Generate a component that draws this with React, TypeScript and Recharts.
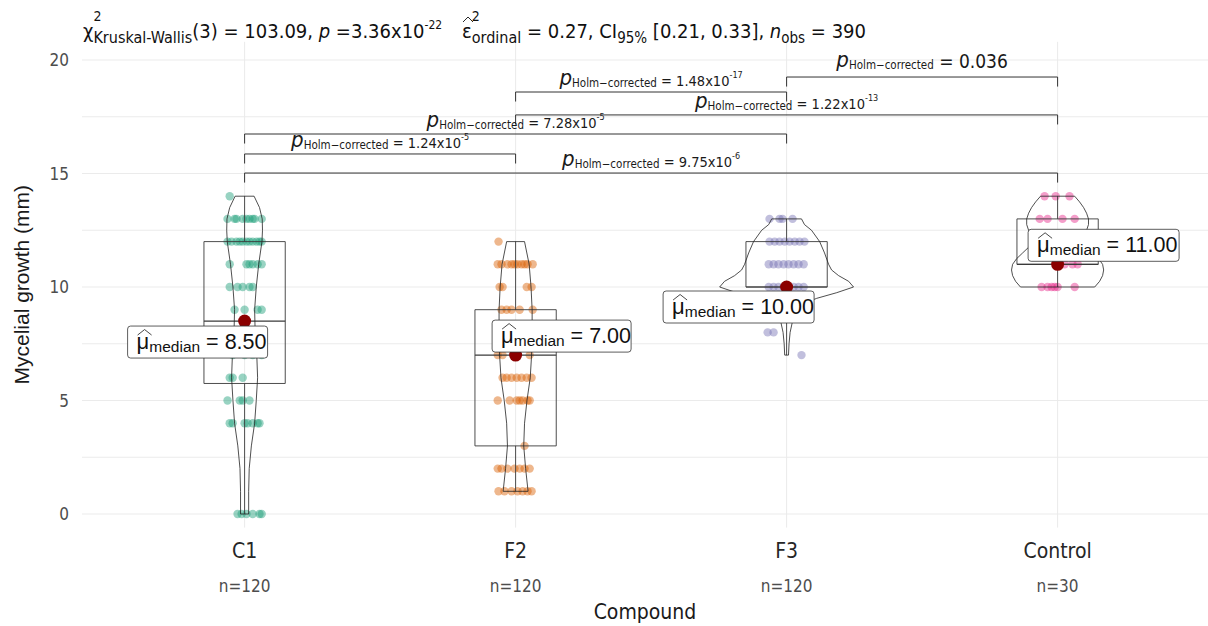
import React from 'react'
import { ComposedChart, Scatter, XAxis, YAxis, CartesianGrid } from 'recharts'

const NARROW = "'Liberation Sans Narrow', 'Arial Narrow', 'DejaVu Sans Condensed', sans-serif"
const SANS = "'Liberation Sans', Arial, sans-serif"

const groups = ['C1', 'F2', 'F3', 'Control']
const groupN = [120, 120, 120, 30]
const groupColors = ['#1B9E77', '#D95F02', '#7570B3', '#E7298A']

// box plot stats
const medians = [8.5, 7, 10, 11]
const medianText = ['8.50', '7.00', '10.00', '11.00']
const q1 = [5.75, 3, 10, 11]
const q3 = [12, 9, 12, 13]
const whiskerLow = [0, 1, 7, 10]
const whiskerHigh = [14, 12, 13, 14]

// visible observations: [value, horizontal jitter of each point (category units)]
const c1Points: [number, number[]][] = [
  [14, [-0.055]],
  [13, [-0.063, -0.037, -0.03, -0.007, 0.007, 0.018, 0.03, 0.037, 0.063]],
  [12, [-0.063, -0.048, -0.03, -0.018, -0.007, 0.007, 0.018, 0.03, 0.044, 0.055, 0.063]],
  [11, [-0.055, 0.007, 0.018, 0.03, 0.048, 0.063]],
  [10, [-0.055, -0.026, -0.007, 0.018, 0.03]],
  [9, [-0.037, 0, 0.048, 0.063]],
  [8, [-0.044, 0, 0.037]],
  [7, [-0.044, 0, 0.03, 0.063]],
  [6, [-0.055, -0.044, -0.007]],
  [5, [-0.063, -0.018, -0.007, 0.018]],
  [4, [-0.055, -0.044, 0, 0.011, 0.03, 0.048, 0.055]],
  [0, [-0.026, -0.011, 0.007, 0.03, 0.055, 0.063]],
]
const f2Points: [number, number[]][] = [
  [12, [-0.063]],
  [11, [-0.066, -0.052, -0.03, -0.015, -0.004, 0.007, 0.022, 0.033, 0.044, 0.063]],
  [10, [-0.059, -0.048, 0.041, 0.059]],
  [9, [-0.052, -0.033, -0.015, 0.015, 0.063]],
  [8, [-0.037, 0.018, 0.055]],
  [7, [-0.066, -0.048, 0.052]],
  [6, [-0.048, -0.033, -0.015, 0.004, 0.022, 0.041, 0.059]],
  [5, [-0.066, -0.022, 0.004, 0.015, 0.026, 0.044, 0.052]],
  [3, [0.033]],
  [2, [-0.066, -0.052, -0.03, -0.004, 0.015, 0.033, 0.052]],
  [1, [-0.063, -0.041, -0.015, 0.007, 0.026, 0.044, 0.059]],
]
const f3Points: [number, number[]][] = [
  [13, [-0.063, -0.026, -0.015, 0.022]],
  [12, [-0.063, -0.044, -0.026, -0.007, 0.011, 0.03, 0.048, 0.066]],
  [11, [-0.066, -0.048, -0.03, -0.011, 0.007, 0.026, 0.044, 0.063]],
  [10, [-0.066, -0.048, -0.03, -0.011, 0.007, 0.026, 0.044, 0.063]],
  [9, [-0.037, 0.018]],
  [8, [-0.07, -0.048]],
  [7, [0.055]],
]
const controlPoints: [number, number[]][] = [
  [14, [-0.048, -0.007, 0.044]],
  [13, [-0.066, -0.037, 0.018, 0.063]],
  [12, [-0.037, 0.018]],
  [11, [0.026, 0.055, 0.074]],
  [10, [-0.059, -0.037, -0.022, -0.011, 0, 0.063]],
]
const pointRows = [c1Points, f2Points, f3Points, controlPoints]

// violin half widths (category units) at given heights
const c1ViolinY = [0, 1, 2, 3, 4, 5, 6, 7, 8, 9, 10, 11, 12, 12.5, 13, 13.5, 14]
const c1ViolinW = [0.015, 0.015, 0.017, 0.025, 0.037, 0.043, 0.048, 0.045, 0.039, 0.037, 0.043, 0.052, 0.064, 0.066, 0.065, 0.055, 0.035]
const f2ViolinY = [1, 2, 3, 4, 5, 6, 7, 8, 9, 10, 11, 12]
const f2ViolinW = [0.046, 0.037, 0.03, 0.033, 0.042, 0.054, 0.059, 0.061, 0.061, 0.057, 0.05, 0.033]
const f3ViolinY = [7, 7.5, 8, 8.5, 9, 9.25, 9.5, 9.75, 10, 10.25, 10.5, 10.75, 11, 11.5, 12, 12.5, 12.75, 13]
const f3ViolinW = [0.007, 0.009, 0.013, 0.022, 0.037, 0.059, 0.111, 0.185, 0.247, 0.229, 0.192, 0.166, 0.155, 0.14, 0.122, 0.092, 0.066, 0.055]
const controlViolinY = [10, 10.25, 10.5, 10.75, 11, 11.25, 11.5, 11.75, 12, 12.25, 12.5, 12.75, 13, 13.25, 13.5, 13.75, 14]
const controlViolinW = [0.137, 0.155, 0.166, 0.17, 0.166, 0.151, 0.129, 0.107, 0.096, 0.1, 0.107, 0.114, 0.114, 0.107, 0.096, 0.081, 0.063]
const violinYs = [c1ViolinY, f2ViolinY, f3ViolinY, controlViolinY]
const violinWs = [c1ViolinW, f2ViolinW, f3ViolinW, controlViolinW]

// pairwise comparisons
const pairFrom = [1, 1, 1, 2, 2, 3]
const pairTo = [4, 2, 3, 4, 3, 4]
const pairY = [15.02, 15.86, 16.74, 17.58, 18.59, 19.25]
const pairP = ['9.75x10', '1.24x10', '7.28x10', '1.22x10', '1.48x10', '0.036']
const pairExp = ['-6', '-5', '-5', '-13', '-17', '']

const BOX_HALF = 0.15
const BRACKET_TICK = 0.42
const labelOffset: [number, number][] = [[-47, 21], [46, -19], [-48, 20], [46, -19]]
const labelWidth = [140, 139, 151, 151]

const pointData = pointRows.map((rows, g) =>
  rows.flatMap(([v, offs]) => offs.map((o) => ({ x: g + 1 + o, y: v })))
)
const violinData = violinYs.map((ys, g) => {
  const ws = violinWs[g]
  const left = ys.map((y, k) => ({ x: g + 1 - ws[k], y }))
  const right = ys.map((y, k) => ({ x: g + 1 + ws[k], y })).reverse()
  return [...left, ...right, left[0]]
})
const boxData = groups.map((_, g) => {
  const c = g + 1
  return [
    { x: c - BOX_HALF, y: q1[g] },
    { x: c - BOX_HALF, y: q3[g] },
    { x: c + BOX_HALF, y: q3[g] },
    { x: c + BOX_HALF, y: q1[g] },
    { x: c - BOX_HALF, y: q1[g] },
  ]
})
const medianLineData = groups.map((_, g) => [
  { x: g + 1 - BOX_HALF, y: medians[g] },
  { x: g + 1 + BOX_HALF, y: medians[g] },
])
const lowWhiskerData = groups.map((_, g) => [
  { x: g + 1, y: whiskerLow[g] },
  { x: g + 1, y: q1[g] },
])
const highWhiskerData = groups.map((_, g) => [
  { x: g + 1, y: q3[g] },
  { x: g + 1, y: whiskerHigh[g] },
])
const bracketData = pairFrom.map((a, k) => [
  { x: a, y: pairY[k] - BRACKET_TICK },
  { x: a, y: pairY[k] },
  { x: pairTo[k], y: pairY[k] },
  { x: pairTo[k], y: pairY[k] - BRACKET_TICK },
])
const bracketLabelData = pairFrom.map((a, k) => ({
  x: (a + pairTo[k]) / 2,
  y: pairY[k],
  k,
}))
const medianData = medians.map((m, g) => ({ x: g + 1, y: m, g }))

const noShape = () => <g />

const lineSeries = (key: string, data: any[], stroke: string, width: number) => (
  <Scatter
    key={key}
    data={data}
    fill="none"
    line={{ stroke, strokeWidth: width }}
    lineType="joint"
    shape={noShape}
    isAnimationActive={false}
  />
)

const XTick = (props: any) => {
  const { x, y, payload } = props
  const i = Math.round(payload.value) - 1
  return (
    <g>
      <text x={x} y={y + 30} textAnchor="middle" fontFamily={NARROW} fontSize={21} fill="#262626">
        {groups[i]}
      </text>
      <text x={x} y={y + 64} textAnchor="middle" fontFamily={NARROW} fontSize={17} fill="#4d4d4d">
        n={groupN[i]}
      </text>
    </g>
  )
}

const BracketLabel = (props: any) => {
  const { cx, cy, payload } = props
  const k = payload.k
  const big = pairExp[k] === ''
  return (
    <text x={cx} y={cy - (big ? 10 : 7)} textAnchor="middle" fontFamily={NARROW} fill="#1a1a1a">
      <tspan fontSize={22} fontStyle="italic">p</tspan>
      <tspan fontSize={11.5} dy={2}>Holm−corrected</tspan>
      <tspan fontSize={big ? 19 : 14.5} dy={-1}>{' = ' + pairP[k]}</tspan>
      {pairExp[k] !== '' && (
        <tspan fontSize={9} dy={-8}>{pairExp[k]}</tspan>
      )}
    </text>
  )
}

const MedianMark = (props: any) => {
  const { cx, cy, payload } = props
  const g = payload.g
  const [dx, dy] = labelOffset[g]
  const w = labelWidth[g]
  const h = 32
  const bx = cx + dx - w / 2
  const by = cy + dy - h / 2
  return (
    <g>
      <circle cx={cx} cy={cy} r={6.5} fill="#8B0000" />
      <rect x={bx} y={by} width={w} height={h} rx={3} fill="#ffffff" stroke="#333333" strokeWidth={0.8} />
      <path d={`M${bx + 10},${by + 9} L${bx + 17},${by + 3.5} L${bx + 24},${by + 9}`} fill="none" stroke="#333333" strokeWidth={0.9} />
      <text x={bx + 9} y={by + 23} fontFamily={SANS} fill="#111111">
        <tspan fontSize={22}>μ</tspan>
        <tspan fontSize={15.5} dy={3}>median</tspan>
        <tspan fontSize={21.5} dy={-3}>{' = ' + medianText[g]}</tspan>
      </text>
    </g>
  )
}

export default function App() {
  return (
    <div style={{ position: 'absolute', left: 0, top: 0, width: 1208, height: 626, background: '#fff' }}>
      <ComposedChart width={1208} height={626} margin={{ top: 41.84, right: 0, bottom: 0, left: 0 }}>
        <CartesianGrid stroke="#ebebeb" strokeWidth={1} syncWithTicks />
        <XAxis
          type="number"
          dataKey="x"
          domain={[0.4, 4.555]}
          allowDataOverflow
          ticks={[1, 2, 3, 4]}
          interval={0}
          height={98.38}
          tickLine={false}
          axisLine={false}
          tickSize={0}
          tickMargin={0}
          tick={<XTick />}
          label={{ value: 'Compound', position: 'insideBottom', offset: 7, fontSize: 21, fill: '#1a1a1a', fontFamily: NARROW }}
        />
        <YAxis
          type="number"
          dataKey="y"
          domain={[-0.6, 20.8]}
          allowDataOverflow
          ticks={[0, 2.5, 5, 7.5, 10, 12.5, 15, 17.5, 20]}
          interval={0}
          width={82}
          tickLine={false}
          axisLine={false}
          tickMargin={7}
          tickFormatter={(v: number) => (v % 5 === 0 ? String(v) : '')}
          tick={{ fontSize: 17, fill: '#4d4d4d', fontFamily: NARROW }}
          label={{
            value: 'Mycelial growth (mm)',
            angle: -90,
            position: 'insideLeft',
            offset: 22,
            fontSize: 21,
            fill: '#1a1a1a',
            fontFamily: SANS,
            style: { textAnchor: 'middle' },
          }}
        />
        {pointData.map((d, g) => (
          <Scatter
            key={'pts' + g}
            data={d}
            isAnimationActive={false}
            shape={(p: any) => <circle cx={p.cx} cy={p.cy} r={4.2} fill={groupColors[g]} fillOpacity={0.45} />}
          />
        ))}
        {boxData.map((d, g) => lineSeries('box' + g, d, '#3a3a3a', 0.9))}
        {medianLineData.map((d, g) => lineSeries('med' + g, d, '#3a3a3a', 1.2))}
        {lowWhiskerData.map((d, g) => lineSeries('wl' + g, d, '#3a3a3a', 0.9))}
        {highWhiskerData.map((d, g) => lineSeries('wh' + g, d, '#3a3a3a', 0.9))}
        {violinData.map((d, g) => lineSeries('vio' + g, d, '#222222', 0.8))}
        {bracketData.map((d, k) => lineSeries('br' + k, d, '#333333', 1))}
        <Scatter data={bracketLabelData} isAnimationActive={false} shape={(p: any) => <BracketLabel {...p} />} />
        <Scatter data={medianData} isAnimationActive={false} shape={(p: any) => <MedianMark {...p} />} />
      </ComposedChart>
      <svg width={1208} height={60} style={{ position: 'absolute', left: 0, top: 0, pointerEvents: 'none' }}>
        <text x={83} y={38} fontFamily={NARROW} fontSize={20} fill="#111111">
          <tspan>χ</tspan>
          <tspan fontSize={14} dy={-17}>2</tspan>
          <tspan fontSize={16} dx={-8} dy={22}>Kruskal-Wallis</tspan>
          <tspan dy={-5}>(3) = 103.09, </tspan>
          <tspan fontStyle="italic">p</tspan>
          <tspan> =3.36x10</tspan>
          <tspan fontSize={12} dy={-9}>-22</tspan>
        </text>
        <path d="M463,22 L468,17 L473,22" fill="none" stroke="#111111" strokeWidth={0.9} />
        <text x={462} y={38} fontFamily={NARROW} fontSize={20} fill="#111111">
          <tspan>ε</tspan>
          <tspan fontSize={14} dy={-17}>2</tspan>
          <tspan fontSize={16} dx={-8} dy={22}>ordinal</tspan>
          <tspan dy={-5}> = 0.27, CI</tspan>
          <tspan fontSize={15} dy={5}>95%</tspan>
          <tspan dy={-5}> [0.21, 0.33], </tspan>
          <tspan fontStyle="italic">n</tspan>
          <tspan fontSize={15} dy={5}>obs</tspan>
          <tspan dy={-5}> = 390</tspan>
        </text>
      </svg>
    </div>
  )
}
